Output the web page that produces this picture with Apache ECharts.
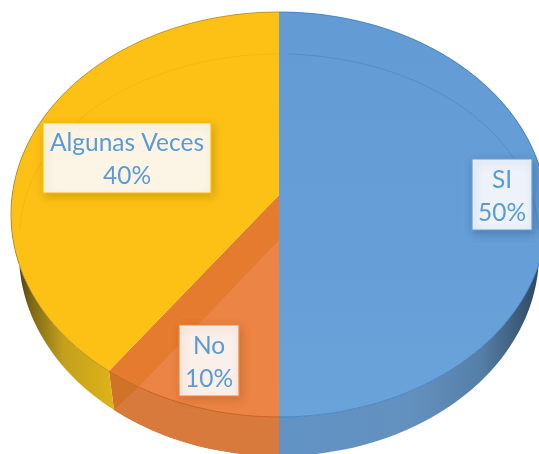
<!DOCTYPE html>
<html>
<head>
<meta charset="utf-8">
<style>html,body{margin:0;padding:0;background:#fff;overflow:hidden}#c{width:539px;height:454px}</style>
<script src="https://cdn.jsdelivr.net/npm/echarts@6/dist/echarts.min.js"></script>
</head>
<body>
<div id="c"></div>
<script>
const categories = ['SI', 'No', 'Algunas Veces'];
const values = [50, 10, 40];

// Perspective pie geometry (view only)
const CX = 279, CY = 195, A = 200.6, B = 266.8, K = 0.0963, DEPTH = 39, BASE_SCALE = 0.97;
const total = values.reduce((a, b) => a + b, 0);
const startOf = i => values.slice(0, i).reduce((a, b) => a + b, 0) / total * 360;

function rim(deg) {
  const t = deg * Math.PI / 180, u = Math.sin(t), v = -Math.cos(t), d = 1 - K * v;
  return [CX + B * u / d, CY + A * v / d];
}
function arc(a0, a1, base) {
  const pts = [], n = Math.max(2, Math.ceil(Math.abs(a1 - a0) / 1.5));
  for (let i = 0; i <= n; i++) {
    const p = rim(a0 + (a1 - a0) * i / n);
    pts.push(base ? [CX + (p[0] - CX) * BASE_SCALE, p[1] + DEPTH] : p);
  }
  return pts;
}
function hGrad(x0, x1, stops) {
  return { type: 'linear', x: x0, y: 0, x2: x1, y2: 0, global: true,
    colorStops: stops.map(s => ({ offset: s[0], color: s[1] })) };
}
const poly = (points, style) => ({ type: 'polygon', shape: { points }, style });
const line = (points, stroke, w) => ({ type: 'polyline', shape: { points },
  style: { stroke, lineWidth: w || 1, fill: null } });

const looks = [
  { top: { type: 'linear', x: 0, y: 12, x2: 0, y2: 417, global: true,
      colorStops: [{ offset: 0, color: '#639BD4' }, { offset: 0.6, color: '#669FD7' }, { offset: 1, color: '#69A3D9' }] },
    side: hGrad(279, 539, [[0, '#6193C6'], [0.5, '#6391BF'], [0.78, '#557FA8'], [1, '#30475F']]),
    edge: 'rgba(60,125,195,0.8)', box: '#EEF3FA', boxEdge: '#68A0D6', shadow: 'rgba(40,80,130,0.45)',
    cx: 502, cy: 194.5, w: 60, h: 71 },
  { top: '#E57B2E', side: '#CF7329', edge: '#C9641E', box: '#FAF0EA', boxEdge: '#EE8540',
    shadow: 'rgba(170,80,20,0.4)', cx: 209, cy: 360.5, w: 60, h: 71 },
  { top: '#FDC116',
    side: hGrad(14, 113, [[0, '#3E3312'], [0.18, '#7E6815'], [0.5, '#C4A01C'], [1, '#DDB318']]),
    edge: 'rgba(175,135,30,0.75)', box: '#FCF5E6', boxEdge: '#FFC000', shadow: 'rgba(150,110,0,0.4)',
    cx: 127, cy: 158, w: 168, h: 70 }
];

function renderItem(params, api) {
  const i = params.dataIndex, val = api.value(0);
  const a0 = startOf(i), a1 = a0 + val / total * 360, L = looks[i];
  const kids = [];
  const topArc = arc(a0, a1), botArc = arc(a1, a0, true);
  kids.push(poly(topArc.concat(botArc), { fill: L.side }));
  kids.push(poly([[CX, CY]].concat(topArc), { fill: L.top }));
  if (i === 1) {
    // lighter bevel shading inside the small wedge
    const a2 = a0 + (a1 - a0) * 0.8, lightArc = arc(a0, a2);
    kids.push(poly([[CX, CY + 45]].concat(lightArc.slice().reverse()), { fill: '#EC8445' }));
    kids.push(poly(lightArc.concat(arc(a1, a0, true)), { fill: '#D97A3D' }));
  }
  kids.push(line(topArc, L.edge, 1));
  return { type: 'group', children: kids };
}

function renderLabel(params, api) {
  const i = params.dataIndex, L = looks[i];
  const x = L.cx - L.w / 2, y = L.cy - L.h / 2;
  return { type: 'group', children: [
    { type: 'rect', shape: { x, y, width: L.w, height: L.h },
      style: { fill: L.box, stroke: L.boxEdge, lineWidth: 1.2, shadowBlur: 9, shadowOffsetX: 2, shadowOffsetY: 3, shadowColor: L.shadow } },
    { type: 'text', x: L.cx, y: L.cy + 2,
      style: { text: categories[i] + '\n' + api.value(0) + '%', fill: '#5B9BD5',
        font: '24.5px Lato', lineHeight: 33, align: 'center', verticalAlign: 'middle' } }
  ] };
}

function renderRing() {
  // faint inner bevel outline on the top face
  const pts = [];
  for (let d = 0; d <= 360; d += 2) {
    const t = d * Math.PI / 180;
    pts.push([279 + 259 * Math.cos(t), 235 + 181 * Math.sin(t)]);
  }
  const upper = pts.filter(p => p[1] < 230);
  const left = upper.filter(p => p[0] < 279).sort((a, b) => b[0] - a[0]);
  const right = upper.filter(p => p[0] >= 279).sort((a, b) => a[0] - b[0]);
  return { type: 'group', children: [
    line(left, 'rgba(205,150,20,0.22)', 1),
    line(right, 'rgba(60,120,185,0.4)', 1)
  ] };
}

const rows = categories.map((c, i) => [values[i], c]);
const chart = echarts.init(document.getElementById('c'), null, { renderer: 'canvas' });
chart.setOption({
  animation: false,
  backgroundColor: '#fff',
  series: [
    { type: 'custom', coordinateSystem: 'none', renderItem, data: rows, silent: true, z: 1 },
    { type: 'custom', coordinateSystem: 'none', renderItem: renderRing, data: [[0]], silent: true, z: 2 },
    { type: 'custom', coordinateSystem: 'none', renderItem: renderLabel, data: rows, silent: true, z: 3 }
  ]
});
</script>
</body>
</html>
